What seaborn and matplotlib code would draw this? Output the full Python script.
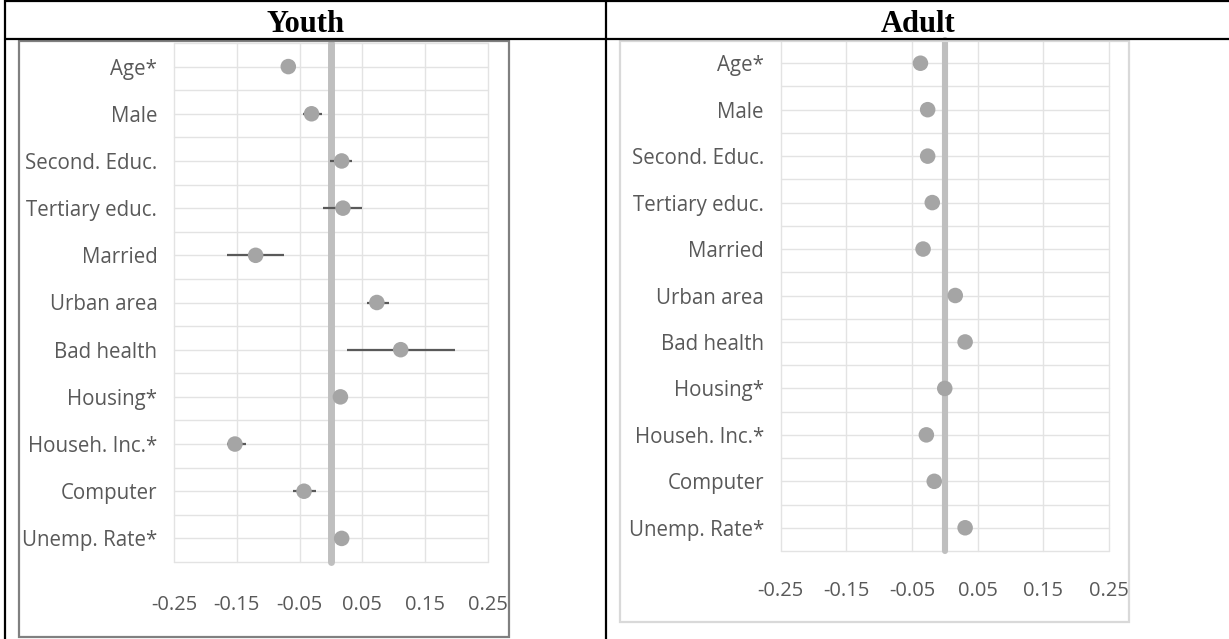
import numpy as np
import pandas as pd
import matplotlib
matplotlib.use("Agg")
import matplotlib.pyplot as plt
import seaborn as sns
from matplotlib.lines import Line2D
from matplotlib.patches import Rectangle

# Covariates, top to bottom
categories = ["Age*", "Male", "Second. Educ.", "Tertiary educ.", "Married",
              "Urban area", "Bad health", "Housing*", "Househ. Inc.*",
              "Computer", "Unemp. Rate*"]

# Youth: point estimates and confidence bounds
youth_est = [-0.068, -0.031, 0.017, 0.019, -0.120, 0.073, 0.111, 0.015, -0.153, -0.043, 0.017]
youth_lo = [-0.071, -0.045, -0.001, -0.012, -0.165, 0.057, 0.026, 0.013, -0.166, -0.061, 0.015]
youth_hi = [-0.065, -0.015, 0.033, 0.050, -0.075, 0.092, 0.197, 0.017, -0.136, -0.024, 0.019]

# Adult: point estimates
adult_est = [-0.037, -0.026, -0.026, -0.019, -0.033, 0.016, 0.031, 0.000, -0.028, -0.016, 0.031]

x_ticks = [-0.25, -0.15, -0.05, 0.05, 0.15, 0.25]
x_tick_labels = ["-0.25", "-0.15", "-0.05", "0.05", "0.15", "0.25"]
panel_titles = ["Youth", "Adult"]

W, H = 1229, 639
sns.set_theme(style="white")
plt.rcParams["font.family"] = ["Open Sans", "DejaVu Sans"]

fig = plt.figure(figsize=(W / 100, H / 100), dpi=100)
fig.patch.set_facecolor("white")


def fx(x):
    return x / W


def fy(y):
    return 1 - y / H


def axes_px(left, top, right, bottom):
    return fig.add_axes([fx(left), fy(bottom), (right - left) / W, (bottom - top) / H])


GRID = "#e3e3e3"
DOT = "#a5a5a5"
TXT = "#595959"


def draw_panel(ax, est, lo=None, hi=None, zero_w=5.0, xpad=22):
    n = len(categories)
    pos = np.arange(n)
    df = pd.DataFrame({"pos": pos, "est": est})

    for y in np.arange(-0.5, n, 0.5):
        ax.axhline(y, color=GRID, lw=1.0, zorder=0, clip_on=False)
    for x in x_ticks:
        ax.axvline(x, color=GRID, lw=1.0, zorder=0, clip_on=False)
    ax.axvline(0, color="#bfbfbf", lw=zero_w, zorder=1, clip_on=False)

    if lo is not None:
        ax.hlines(pos, lo, hi, color=TXT, lw=1.6, zorder=2)
    sns.scatterplot(data=df, x="est", y="pos", ax=ax, s=125, color=DOT,
                    edgecolor="none", linewidth=0, zorder=3, legend=False)

    ax.set_xlim(-0.25, 0.25)
    ax.set_ylim(n - 0.5, -0.5)
    ax.set_yticks(pos, categories)
    ax.set_xticks(x_ticks, x_tick_labels)
    ax.tick_params(length=0, labelcolor=TXT)
    ax.tick_params(axis="y", pad=12, labelsize=14.8)
    ax.tick_params(axis="x", pad=xpad, labelsize=14.5)
    for s in ax.spines.values():
        s.set_visible(False)
    ax.set_xlabel("")
    ax.set_ylabel("")
    ax.set_facecolor("none")


# Chart frames inside the table cells
fig.add_artist(Rectangle((fx(19), fy(637)), (509 - 19) / W, (637 - 41) / H,
                         transform=fig.transFigure, fill=False,
                         edgecolor="#808080", lw=1.6))
fig.add_artist(Rectangle((fx(620), fy(622)), (1129 - 620) / W, (622 - 41) / H,
                         transform=fig.transFigure, fill=False,
                         edgecolor="#d9d9d9", lw=1.6))

ax_y = axes_px(174, 43, 488, 562)
draw_panel(ax_y, youth_est, youth_lo, youth_hi, zero_w=5.0, xpad=23.5)

ax_a = axes_px(780.5, 40, 1109, 551)
draw_panel(ax_a, adult_est, zero_w=4.4, xpad=21.5)

# Table borders
def hline(y, x0, x1):
    fig.add_artist(Line2D([fx(x0), fx(x1)], [fy(y), fy(y)], transform=fig.transFigure,
                          color="black", lw=1.6, solid_capstyle="butt"))


def vline(x, y0, y1):
    fig.add_artist(Line2D([fx(x), fx(x)], [fy(y0), fy(y1)], transform=fig.transFigure,
                          color="black", lw=1.6, solid_capstyle="butt"))


hline(1, 4, W)
hline(38.5, 4, W)
vline(5, 0, H)
vline(606, 0, H)

# Header row
fig.text(fx(306), fy(24), panel_titles[0], ha="center", va="center",
         family="Liberation Serif", weight="bold", size=22, color="black")
fig.text(fx(918), fy(24), panel_titles[1], ha="center", va="center",
         family="Liberation Serif", weight="bold", size=22, color="black")

fig.savefig("out.png", dpi=100, facecolor="white")
